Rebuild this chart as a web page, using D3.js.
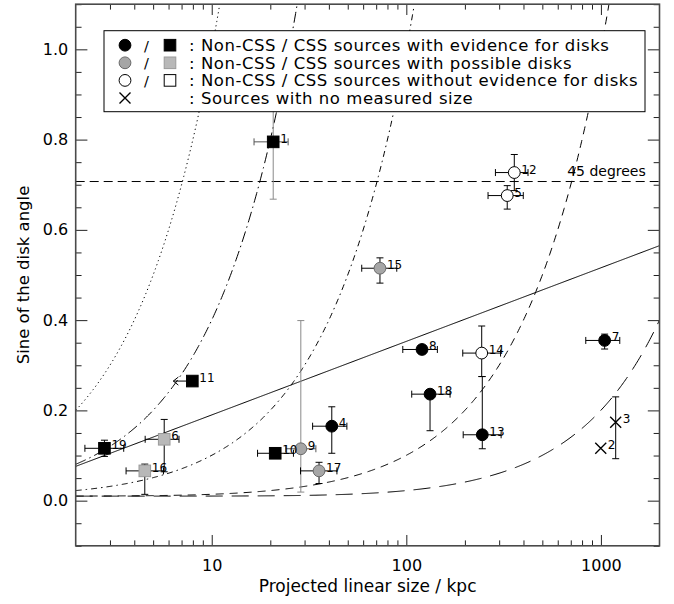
<!DOCTYPE html>
<html>
<head>
<meta charset="utf-8">
<script src="https://cdn.jsdelivr.net/npm/d3@7/dist/d3.min.js"></script>
<style>
  body { margin: 0; background: #fff; }
  svg { display: block; font-family: "DejaVu Sans", sans-serif; }
</style>
</head>
<body>
<svg id="chart" width="674" height="604"></svg>
<script>
// ---- source catalogue (projected linear size in kpc, sine of disk angle) ----
const ids      = [1, 2, 3, 4, 5, 6, 7, 8, 9, 10, 11, 12, 13, 14, 15, 16, 17, 18, 19];
const sizeKpc  = [20.7, 998, 1191, 41.4, 330, 5.70, 1045, 120.4, 28.7, 21.2, 7.95, 358.8, 245.7, 244, 73.2, 4.53, 35.6, 132.4, 2.81];
const sineVal  = [0.795, 0.116, 0.174, 0.165, 0.676, 0.136, 0.355, 0.335, 0.115, 0.105, 0.265, 0.727, 0.146, 0.327, 0.515, 0.066, 0.066, 0.236, 0.116];
const sizeLow  = [16.5, null, null, 33.0, 263, 4.55, 836, 95.9, 24.0, 17.2, null, 287, 196, 195, 59.0, 3.63, 28.6, 106.6, 2.23];
const sizeHigh = [24.7, null, null, 49.5, 399, 6.79, 1250, 144.4, 34.3, 26.3, null, 422, 307, 305, 89.3, 5.65, 44.0, 167.8, 3.53];
const sineLow  = [0.668, null, 0.093, 0.105, 0.646, 0.064, 0.336, null, 0.019, null, null, 0.687, 0.115, 0.275, 0.482, 0.014, 0.038, 0.155, 0.098];
const sineHigh = [0.922, null, 0.230, 0.208, 0.698, 0.180, 0.369, null, 0.399, null, null, 0.767, 0.275, 0.387, 0.538, 0.081, 0.085, null, 0.134];
const sizeUpperLimit = [null, null, null, null, null, null, null, null, null, null, 6.35, null, null, null, null, null, null, null, null];
const sample   = ["CSS", "none", "none", "nonCSS", "nonCSS", "CSS", "nonCSS", "nonCSS", "nonCSS", "CSS", "CSS", "nonCSS", "nonCSS", "nonCSS", "nonCSS", "CSS", "nonCSS", "nonCSS", "CSS"];
const evidence = ["yes", "nosize", "nosize", "yes", "no", "possible", "yes", "yes", "possible", "yes", "yes", "no", "yes", "no", "possible", "possible", "possible", "yes", "yes"];

// ---- model relations ----
const ratioScales  = [10, 25, 100, 1000, 5000];   // sin = sqrt((L/k)^2 + floor^2)
const sineFloor    = 0.01;
const trendIntercept = 0.076;                      // sin = a + b*log10(L/2)
const trendSlope     = 0.163;
const refAngleSine   = Math.SQRT1_2;               // 45 degrees

// ---- axes ----
const xDomain = [2, 2000];
const yDomain = [-0.1, 1.1];
const xMajor = [10, 100, 1000];
const xMajorLabels = ["10", "100", "1000"];
const yMajor = [0.0, 0.2, 0.4, 0.6, 0.8, 1.0];
const yMajorLabels = ["0.0", "0.2", "0.4", "0.6", "0.8", "1.0"];

// ---- legend ----
const legendRows = [
  { key: "yes",      text: ": Non-CSS / CSS sources with evidence for disks" },
  { key: "possible", text: ": Non-CSS / CSS sources with possible disks" },
  { key: "no",       text: ": Non-CSS / CSS sources without evidence for disks" },
  { key: "nosize",   text: ": Sources with no measured size" }
];

const svg = d3.select("#chart");
const L = 75.7, R = 659.5, T = 4.2, B = 545.8;
const x = d3.scaleLog().domain(xDomain).range([L, R]);
const y = d3.scaleLinear().domain(yDomain).range([B, T]);

const fillFor = (ev, s) => {
  if (ev === "yes") return "#000";
  if (ev === "possible") return s === "CSS" ? "#b8b8b8" : "#a6a6a6";
  return "#fff";
};
const strokeFor = (ev) => ev === "possible" ? "#6a6a6a" : "#000";

svg.append("defs").append("clipPath").attr("id", "plotClip")
  .append("rect").attr("x", L).attr("y", T).attr("width", R - L).attr("height", B - T);

const plot = svg.append("g").attr("clip-path", "url(#plotClip)");

// model curves
const logGrid = d3.range(0, 601).map(i => Math.pow(10, Math.log10(xDomain[0]) + i * (Math.log10(xDomain[1]) - Math.log10(xDomain[0])) / 600));
const dashes = ["1.2,3.2", "11,4,1.5,4", "6,4,1.5,4", "8,6", "17,9"];
ratioScales.forEach((k, i) => {
  const line = d3.line()
    .x(d => x(d))
    .y(d => y(Math.sqrt((d / k) * (d / k) + sineFloor * sineFloor)));
  plot.append("path").datum(logGrid.filter(d => Math.sqrt((d / k) ** 2 + sineFloor ** 2) < 1.3))
    .attr("d", line).attr("fill", "none").attr("stroke", "#000")
    .attr("stroke-width", 1).attr("stroke-dasharray", dashes[i]);
});

// log-linear trend
plot.append("path").datum(logGrid)
  .attr("d", d3.line().x(d => x(d)).y(d => y(trendIntercept + trendSlope * Math.log10(d / xDomain[0]))))
  .attr("fill", "none").attr("stroke", "#000").attr("stroke-width", 1);

// 45 degree reference
plot.append("line").attr("x1", L).attr("x2", R)
  .attr("y1", y(refAngleSine)).attr("y2", y(refAngleSine))
  .attr("stroke", "#000").attr("stroke-width", 1).attr("stroke-dasharray", "9,5");
svg.append("text").attr("x", x(1700)).attr("y", y(refAngleSine) - 5.5)
  .attr("text-anchor", "end").attr("font-size", 14).text("45 degrees");

// error bars
const greyBars = new Set([1, 9]);
const cap = 3.5;
const bars = plot.append("g").attr("stroke-width", 1).attr("fill", "none");
ids.forEach((id, i) => {
  const cx = x(sizeKpc[i]), cy = y(sineVal[i]);
  if (sizeLow[i] != null) {
    const x0 = x(sizeLow[i]), x1 = x(sizeHigh[i]);
    const c = greyBars.has(id) ? "#555" : "#000";
    bars.append("line").attr("x1", x0).attr("x2", x1).attr("y1", cy).attr("y2", cy).attr("stroke", c);
    bars.append("line").attr("x1", x0).attr("x2", x0).attr("y1", cy - cap).attr("y2", cy + cap).attr("stroke", c);
    bars.append("line").attr("x1", x1).attr("x2", x1).attr("y1", cy - cap).attr("y2", cy + cap).attr("stroke", c);
  }
  const vc = greyBars.has(id) ? "#8a8a8a" : "#000";
  if (sineLow[i] != null) {
    const y0 = y(sineLow[i]);
    bars.append("line").attr("x1", cx).attr("x2", cx).attr("y1", cy).attr("y2", y0).attr("stroke", vc);
    bars.append("line").attr("x1", cx - cap).attr("x2", cx + cap).attr("y1", y0).attr("y2", y0).attr("stroke", vc);
  }
  if (sineHigh[i] != null) {
    const y1 = y(sineHigh[i]);
    bars.append("line").attr("x1", cx).attr("x2", cx).attr("y1", cy).attr("y2", y1).attr("stroke", vc);
    bars.append("line").attr("x1", cx - cap).attr("x2", cx + cap).attr("y1", y1).attr("y2", y1).attr("stroke", vc);
  }
  if (sizeUpperLimit[i] != null) {
    const xa = x(sizeUpperLimit[i]);
    bars.append("line").attr("x1", cx).attr("x2", xa).attr("y1", cy).attr("y2", cy).attr("stroke", "#000");
    bars.append("path").attr("d", `M${xa + 5},${cy - 4}L${xa},${cy}L${xa + 5},${cy + 4}`).attr("stroke", "#000");
  }
});

// markers
function drawMarker(g, cx, cy, s, ev) {
  if (ev === "nosize") {
    const h = 5.5;
    g.append("path").attr("d", `M${cx - h},${cy - h}L${cx + h},${cy + h}M${cx - h},${cy + h}L${cx + h},${cy - h}`)
      .attr("stroke", "#000").attr("stroke-width", 1.4).attr("fill", "none");
  } else if (s === "CSS") {
    const h = 5.8;
    g.append("rect").attr("x", cx - h).attr("y", cy - h).attr("width", 2 * h).attr("height", 2 * h)
      .attr("fill", fillFor(ev, s)).attr("stroke", ev === "possible" ? "#9a9a9a" : "#000").attr("stroke-width", 1);
  } else {
    g.append("circle").attr("cx", cx).attr("cy", cy).attr("r", 5.9)
      .attr("fill", fillFor(ev, s)).attr("stroke", strokeFor(ev)).attr("stroke-width", 1);
  }
}
const marks = plot.append("g");
ids.forEach((id, i) => {
  drawMarker(marks, x(sizeKpc[i]), y(sineVal[i]), sample[i], evidence[i]);
});
const labels = plot.append("g").attr("font-size", 12);
ids.forEach((id, i) => {
  labels.append("text").attr("x", x(sizeKpc[i]) + 7).attr("y", y(sineVal[i]) + 1).text(id);
});

// legend
const lg = svg.append("g");
lg.append("rect").attr("x", 104).attr("y", 30.7).attr("width", 541).attr("height", 81)
  .attr("fill", "#fff").attr("stroke", "#000").attr("stroke-width", 1);
legendRows.forEach((row, i) => {
  const ry = 45.2 + i * 17.6;
  if (row.key === "nosize") {
    drawMarker(lg, 125, ry, "none", "nosize");
  } else {
    drawMarker(lg, 125, ry, "nonCSS", row.key);
    lg.append("text").attr("x", 146.5).attr("y", ry + 5.5).attr("text-anchor", "middle")
      .attr("font-size", 14.5).text("/");
    drawMarker(lg, 170, ry, "CSS", row.key);
  }
  lg.append("text").attr("x", 189).attr("y", ry + 6).attr("font-size", 16.5)
    .attr("letter-spacing", 0.55).text(row.text);
});

// axes
const tickColor = "#222";
function minorX() {
  const out = [];
  for (let p = 0; p <= 3; p++) for (let m = 1; m <= 9; m++) {
    const v = m * Math.pow(10, p);
    if (v > xDomain[0] && v < xDomain[1] && m !== 1) out.push(v);
  }
  return out;
}
const yMinor = d3.range(-0.1, 1.1001, 0.05).filter(v => !yMajor.some(m => Math.abs(m - v) < 1e-6));
const tickX = 10.8, tickY = 11.7;

function styleAxis(g) {
  g.select(".domain").remove();
  g.selectAll(".tick line").attr("stroke", tickColor);
}
svg.append("g").attr("transform", `translate(0,${B})`)
  .call(d3.axisBottom(x).tickValues(xMajor).tickSize(-tickX).tickFormat((d, i) => xMajorLabels[i]).tickPadding(14))
  .call(styleAxis)
  .call(g => g.selectAll("text").attr("font-size", 16).attr("fill", "#000").attr("font-family", "DejaVu Sans"));
svg.append("g").attr("transform", `translate(0,${B})`)
  .call(d3.axisBottom(x).tickValues(minorX()).tickSize(-tickX / 2).tickFormat(""))
  .call(styleAxis);
svg.append("g").attr("transform", `translate(0,${T})`)
  .call(d3.axisTop(x).tickValues(xMajor).tickSize(-tickX).tickFormat(""))
  .call(styleAxis);
svg.append("g").attr("transform", `translate(0,${T})`)
  .call(d3.axisTop(x).tickValues(minorX()).tickSize(-tickX / 2).tickFormat(""))
  .call(styleAxis);
svg.append("g").attr("transform", `translate(${L},0)`)
  .call(d3.axisLeft(y).tickValues(yMajor).tickSize(-tickY).tickFormat((d, i) => yMajorLabels[i]).tickPadding(7.5))
  .call(styleAxis)
  .call(g => g.selectAll("text").attr("font-size", 16).attr("fill", "#000").attr("font-family", "DejaVu Sans"));
svg.append("g").attr("transform", `translate(${L},0)`)
  .call(d3.axisLeft(y).tickValues(yMinor).tickSize(-tickY / 2).tickFormat(""))
  .call(styleAxis);
svg.append("g").attr("transform", `translate(${R},0)`)
  .call(d3.axisRight(y).tickValues(yMajor).tickSize(-tickY).tickFormat(""))
  .call(styleAxis);
svg.append("g").attr("transform", `translate(${R},0)`)
  .call(d3.axisRight(y).tickValues(yMinor).tickSize(-tickY / 2).tickFormat(""))
  .call(styleAxis);

// frame
svg.append("rect").attr("x", L).attr("y", T).attr("width", R - L).attr("height", B - T)
  .attr("fill", "none").attr("stroke", "#4a4a4a").attr("stroke-width", 1.6);

// titles
svg.append("text").attr("x", (L + R) / 2).attr("y", 592).attr("text-anchor", "middle")
  .attr("font-size", 17).text("Projected linear size / kpc");
svg.append("text").attr("transform", `translate(29,${(T + B) / 2}) rotate(-90)`)
  .attr("text-anchor", "middle").attr("font-size", 16.5).text("Sine of the disk angle");
</script>
</body>
</html>
